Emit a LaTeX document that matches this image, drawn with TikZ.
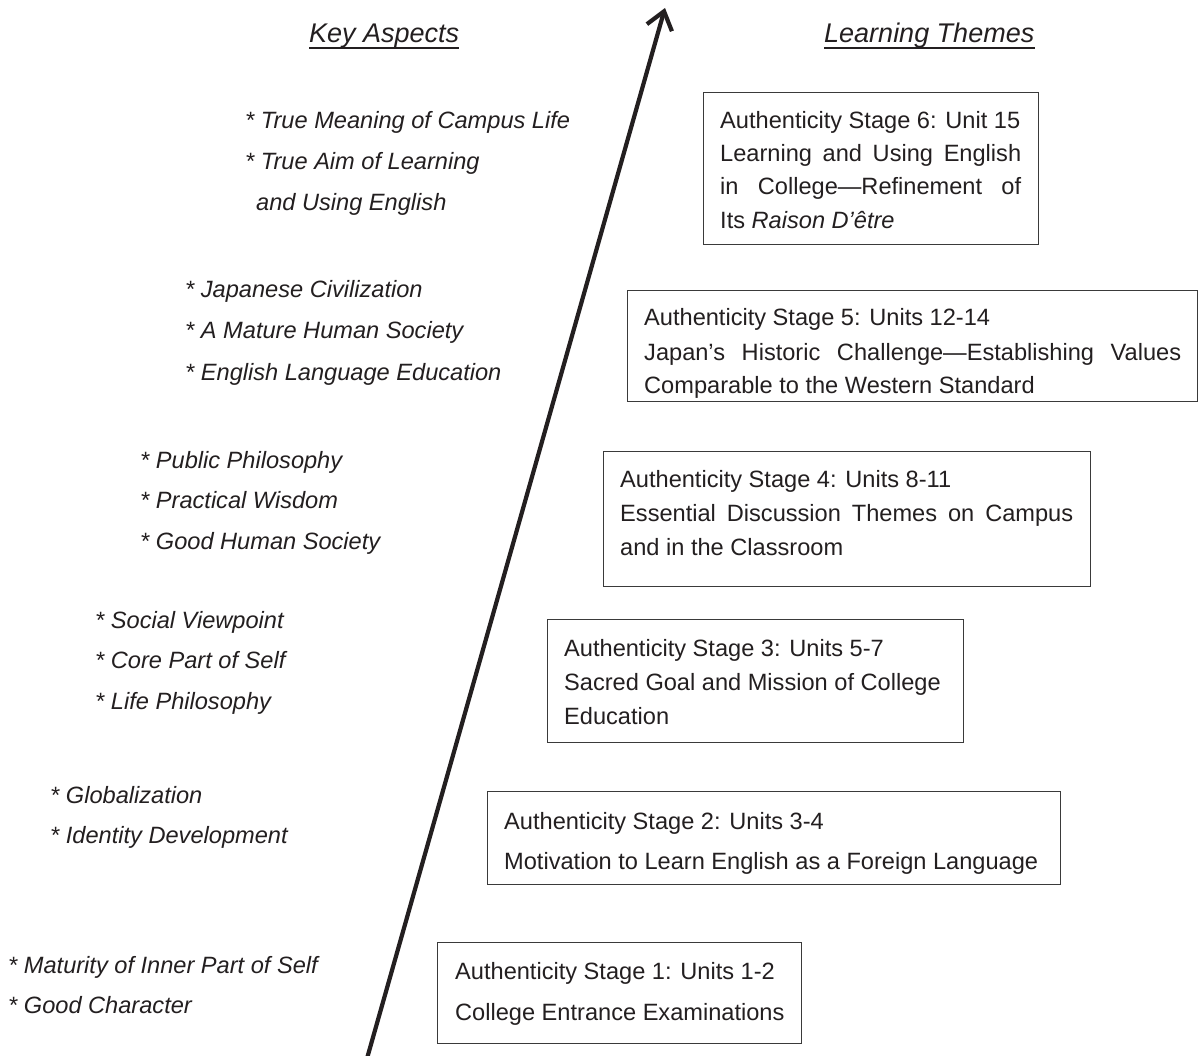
\documentclass[tikz,border=0pt]{standalone}
\usepackage{fontspec}
\setmainfont{Liberation Sans}
\usetikzlibrary{arrows.meta}
\definecolor{txt}{HTML}{231F20}
\definecolor{boxc}{HTML}{3A3A3A}
\newcommand\lfont{\fontsize{23.6}{28}\selectfont}
\newcommand\hfont{\fontsize{27}{32}\selectfont}
\begin{document}
\begin{tikzpicture}[x=1pt,y=-1pt,
  lt/.style={anchor=base west, inner sep=0pt, font=\lfont\itshape, text=txt},
  bt/.style={anchor=base west, inner sep=0pt, font=\lfont, text=txt},
  ht/.style={anchor=base west, inner sep=0pt, font=\hfont\itshape, text=txt},
  box/.style={draw=boxc, line width=1.3pt, anchor=north west, inner sep=0pt},
  uline/.style={draw=txt, line width=1.6pt},
  growth/.style={draw=txt, line width=4.2pt, -{Straight Barb[length=17pt, width=26pt]}}]
\useasboundingbox (0,0) rectangle (1201,1056);
\fill[white] (0,0) rectangle (1201,1056);

% headers
\node[ht] (hk) at (309,43) {Key Aspects};
\node[ht] (hl) at (824,43) {Learning Themes};
\draw[uline] ([yshift=-5pt]hk.base west) -- ([yshift=-5pt]hk.base east);
\draw[uline] ([yshift=-5pt]hl.base west) -- ([yshift=-5pt]hl.base east);

% arrow
\coordinate (abot) at (366,1062);
\coordinate (atop) at (665,8);
\draw[growth] (abot) -- (atop);

% key aspects
\node[lt] (k1a) at (245,129) {* True Meaning of Campus Life};
\node[lt] (k1b) at (245,170) {* True Aim of Learning};
\node[lt] (k1c) at (256,211) {and Using English};

\node[lt] (k2a) at (185,298) {* Japanese Civilization};
\node[lt] (k2b) at (185,338) {* A Mature Human Society};
\node[lt] (k2c) at (185,380) {* English Language Education};

\node[lt] (k3a) at (140,468) {* Public Philosophy};
\node[lt] (k3b) at (140,508) {* Practical Wisdom};
\node[lt] (k3c) at (140,549) {* Good Human Society};

\node[lt] (k4a) at (95,628) {* Social Viewpoint};
\node[lt] (k4b) at (95,668) {* Core Part of Self};
\node[lt] (k4c) at (95,709) {* Life Philosophy};

\node[lt] (k5a) at (50,803) {* Globalization};
\node[lt] (k5b) at (50,843) {* Identity Development};

\node[lt] (k6a) at (8,973) {* Maturity of Inner Part of Self};
\node[lt] (k6b) at (8,1013) {* Good Character};

% boxes
\node[box, minimum width=335pt, minimum height=152pt] (b6) at (703,92) {};
\node[bt] (t6a) at (720,129) {Authenticity Stage 6: Unit 15};
\node[bt] (t6b) at (720,162) {\makebox[301pt][s]{Learning and Using English}};
\node[bt] (t6c) at (720,195) {\makebox[301pt][s]{in College—Refinement of}};
\node[bt] (t6d) at (720,229) {Its \textit{Raison D’être}};

\node[box, minimum width=570pt, minimum height=111pt] (b5) at (627,290) {};
\node[bt] (t5a) at (644,326) {Authenticity Stage 5: Units 12-14};
\node[bt] (t5b) at (644,360) {\makebox[537pt][s]{Japan’s Historic Challenge—Establishing Values}};
\node[bt] (t5c) at (644,393) {Comparable to the Western Standard};

\node[box, minimum width=487pt, minimum height=135pt] (b4) at (603,451) {};
\node[bt] (t4a) at (620,487) {Authenticity Stage 4: Units 8-11};
\node[bt] (t4b) at (620,521) {\makebox[453pt][s]{Essential Discussion Themes on Campus}};
\node[bt] (t4c) at (620,555) {and in the Classroom};

\node[box, minimum width=416pt, minimum height=123pt] (b3) at (547,619) {};
\node[bt] (t3a) at (564,656) {Authenticity Stage 3: Units 5-7};
\node[bt] (t3b) at (564,690) {Sacred Goal and Mission of College};
\node[bt] (t3c) at (564,724) {Education};

\node[box, minimum width=573pt, minimum height=93pt] (b2) at (487,791) {};
\node[bt] (t2a) at (504,829) {Authenticity Stage 2: Units 3-4};
\node[bt] (t2b) at (504,869) {Motivation to Learn English as a Foreign Language};

\node[box, minimum width=364pt, minimum height=101pt] (b1) at (437,942) {};
\node[bt] (t1a) at (455,979) {Authenticity Stage 1: Units 1-2};
\node[bt] (t1b) at (455,1020) {College Entrance Examinations};
\end{tikzpicture}
\end{document}
